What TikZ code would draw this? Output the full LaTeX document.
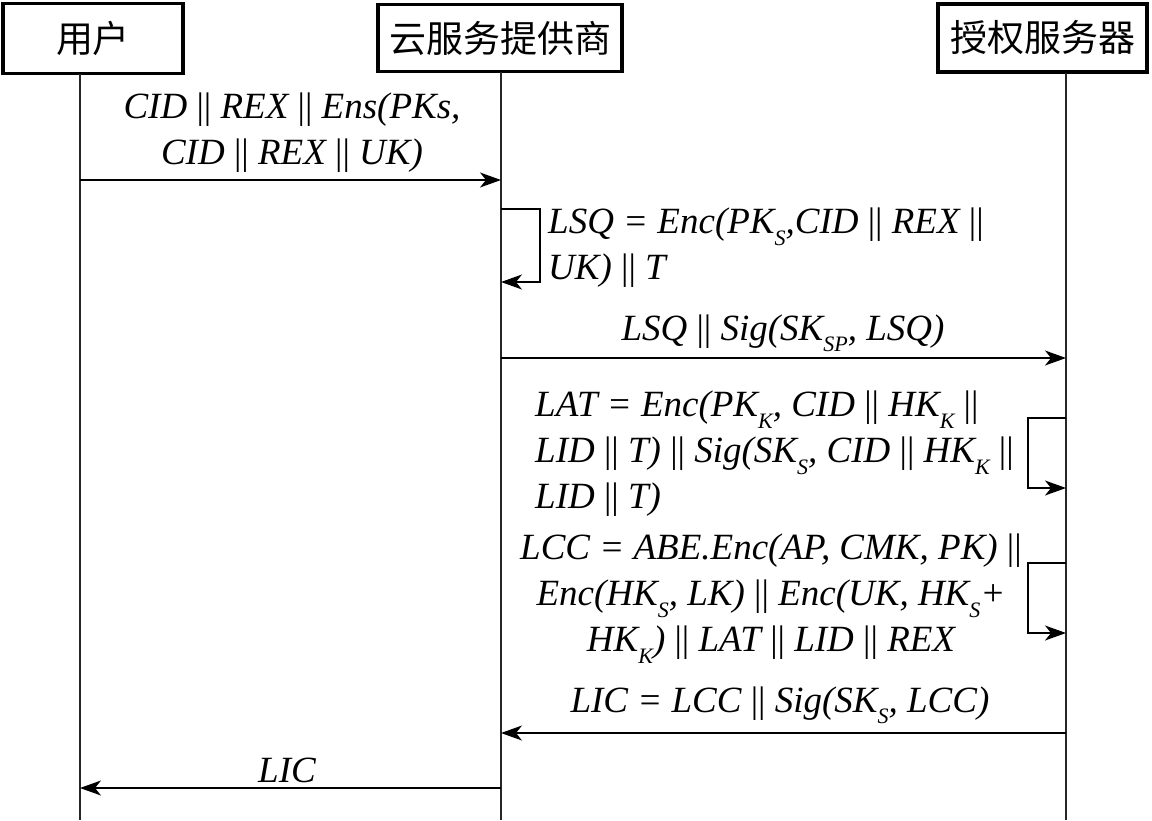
\documentclass[tikz,border=0pt]{standalone}
\usepackage{fontspec}
\setmainfont{Liberation Serif}
\newfontfamily\cjk{Noto Sans CJK SC}
\usetikzlibrary{arrows.meta}
\newcommand\Sb[1]{\raisebox{-0.32em}{\fontsize{22}{22}\selectfont\itshape #1}}
\newcommand\OR{{\upshape||}}
\tikzset{
  actor/.style={draw, line width=3.5pt, font=\cjk\fontsize{37}{44}\selectfont, inner sep=0pt},
  life/.style={line width=1.3pt, black!85},
  msg/.style={line width=1.3pt, -{Stealth[length=21pt,width=15pt,inset=6pt]}},
  lbl/.style={font=\fontsize{37}{46}\selectfont\itshape, inner sep=0pt},
}
\begin{document}
\begin{tikzpicture}[x=1pt,y=-1pt]
\useasboundingbox (0,0) rectangle (1152,820);
% actor boxes
\node[actor, minimum width=180pt, minimum height=70pt] (u) at (93,38.5) {用户};
\node[actor, minimum width=244pt, minimum height=67pt] (c) at (500,38) {云服务提供商};
\node[actor, minimum width=209pt, minimum height=68pt] (a) at (1042.5,38) {授权服务器};
% lifeline tops and bottom
\coordinate (uL) at (80,74);
\coordinate (cL) at (501,72);
\coordinate (aL) at (1066,73);
\coordinate (bot) at (0,820);
\draw[life] (uL) -- (uL |- bot);
\draw[life] (cL) -- (cL |- bot);
\draw[life] (aL) -- (aL |- bot);
% message levels
\coordinate (y1) at (0,180);
\coordinate (y2a) at (0,209);
\coordinate (y2b) at (0,282);
\coordinate (y3) at (0,358);
\coordinate (y4a) at (0,418);
\coordinate (y4b) at (0,488);
\coordinate (y5a) at (0,563);
\coordinate (y5b) at (0,633);
\coordinate (y6) at (0,733);
\coordinate (y7) at (0,788);
\coordinate (lx1) at (540,0);
\coordinate (lx2) at (1028,0);
% messages
\draw[msg] (uL |- y1) -- (cL |- y1);
\draw[msg] (cL |- y2a) -| (lx1 |- y2b) -- (cL |- y2b);
\draw[msg] (cL |- y3) -- (aL |- y3);
\draw[msg] (aL |- y4a) -| (lx2 |- y4b) -- (aL |- y4b);
\draw[msg] (aL |- y5a) -| (lx2 |- y5b) -- (aL |- y5b);
\draw[msg] (aL |- y6) -- (cL |- y6);
\draw[msg] (cL |- y7) -- (uL |- y7);
% labels
\node[lbl, align=center, anchor=north] (t1) at (292,93) {CID \OR{} REX \OR{} Ens(PKs,\\CID \OR{} REX \OR{} UK)};
\node[lbl, align=left, anchor=north west] (t2) at (548,208) {LSQ = Enc(PK\Sb{S},CID \OR{} REX \OR\\UK) \OR{} T};
\node[lbl, anchor=base] (t3) at (783,340) {LSQ \OR{} Sig(SK\Sb{SP}, LSQ)};
\node[lbl, align=left, anchor=north west] (t4) at (535,391) {LAT = Enc(PK\Sb{K}, CID \OR{} HK\Sb{K} \OR\\LID \OR{} T) \OR{} Sig(SK\Sb{S}, CID \OR{} HK\Sb{K} \OR\\LID \OR{} T)};
\node[lbl, align=center, anchor=north] (t5) at (771,534) {LCC = ABE.Enc(AP, CMK, PK) \OR\\Enc(HK\Sb{S}, LK) \OR{} Enc(UK, HK\Sb{S}+\\HK\Sb{K}) \OR{} LAT \OR{} LID \OR{} REX};
\node[lbl, anchor=base] (t6) at (780,712) {LIC = LCC \OR{} Sig(SK\Sb{S}, LCC)};
\node[lbl, anchor=base] (t7) at (287,782) {LIC};
\end{tikzpicture}
\end{document}
